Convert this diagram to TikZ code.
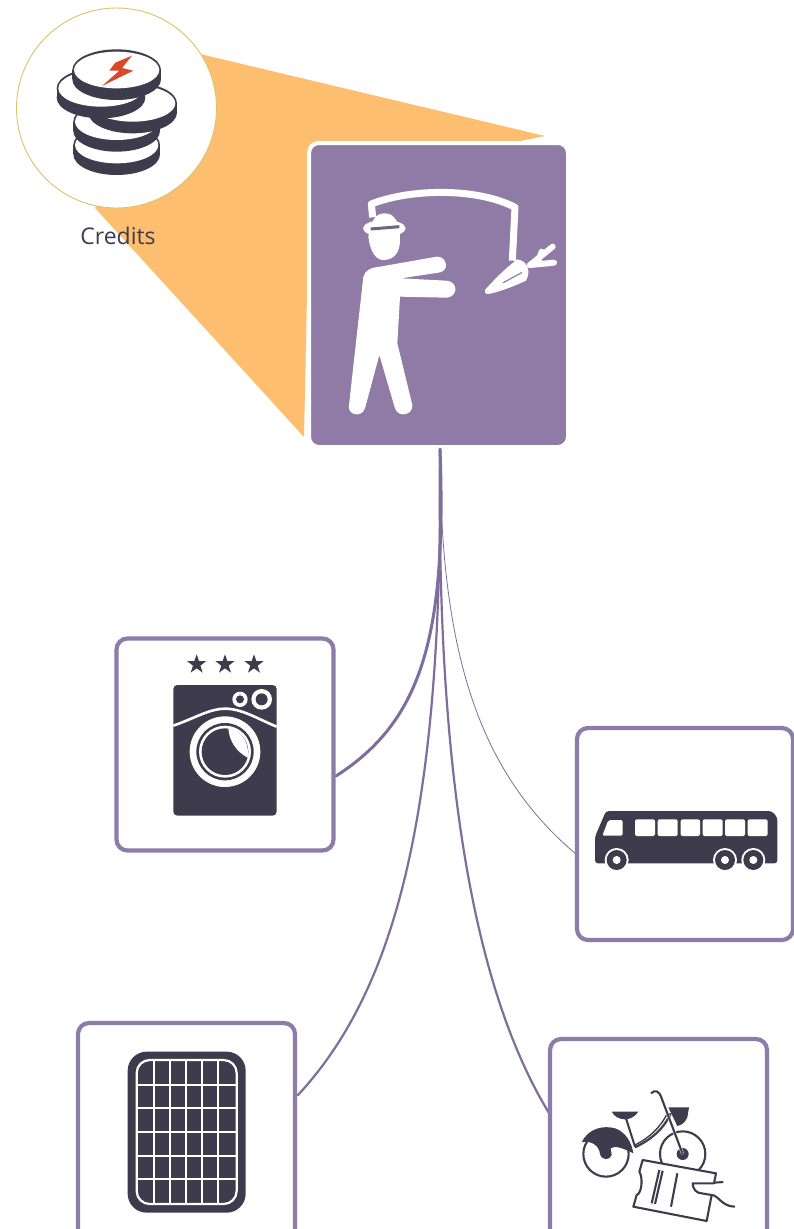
\documentclass[tikz,border=0pt]{standalone}
\usepackage{fontspec}
\setmainfont{Open Sans}
\definecolor{orangefan}{HTML}{FDBF6F}
\definecolor{cardpurple}{HTML}{8F7BA6}
\definecolor{linepurple}{HTML}{7F6D9C}
\definecolor{framepurple}{HTML}{8C7CA8}
\definecolor{icondark}{HTML}{3E3C4C}
\definecolor{bolt}{HTML}{D8492B}
\definecolor{ringline}{HTML}{D9C46A}
\tikzset{
  framebox/.style={draw=framepurple,line width=4.2pt,fill=white,rounded corners=11pt,inner sep=0pt},
  link/.style={draw=linepurple,line cap=round},
  zoomed/.style={x=0.33333pt,y=-0.33333pt},
}
\newcommand{\coinshape}[3]{% cx, cy, rx
  \fill[icondark] (#1,#2) ellipse[x radius=#3+5,y radius=62];
  \fill[icondark] (#1,#2+28) ellipse[x radius=#3+5,y radius=62];
  \fill[icondark] (#1-#3-5,#2) rectangle (#1+#3+5,#2+28);
  \fill[white] (#1,#2) ellipse[x radius=#3,y radius=55];
}
\begin{document}
\begin{tikzpicture}[x=1pt,y=-1pt]
\useasboundingbox (0,0) rectangle (794,1229);
\fill[white] (0,0) rectangle (794,1229);
% orange fan
\fill[orangefan] (200,54) -- (545,136) -- (510,143) -- (310,150) -- (304,437) -- (95,208) -- cycle;
% connector ends
\coordinate (washIn) at (336,776);
\coordinate (busIn) at (577,855);
\coordinate (solarIn) at (298,1095);
\coordinate (bikeIn) at (549,1113);
% main card
\node[draw=white,line width=4pt,fill=cardpurple,rounded corners=10pt,minimum width=259pt,minimum height=304pt,inner sep=0pt] (card) at (438.5,295) {};
\coordinate (trunkTop) at (440,449);
% connectors
\draw[link,line width=3pt] (trunkTop) .. controls (447,640) and (420,722) .. (washIn);
\draw[link,line width=0.8pt] (trunkTop) .. controls (440,660) and (482,775) .. (busIn);
\draw[link,line width=2.2pt] (trunkTop) .. controls (443,800) and (400,985) .. (solarIn);
\draw[link,line width=2.2pt] (trunkTop) .. controls (436,800) and (480,1000) .. (bikeIn);
% boxes
\node[framebox,minimum width=217pt,minimum height=212pt] (wash) at (225,744.5) {};
\node[framebox,minimum width=216pt,minimum height=212pt] (bus) at (685,834) {};
\node[framebox,minimum width=217pt,minimum height=218pt] (solar) at (186.5,1132) {};
\node[framebox,minimum width=217pt,minimum height=218pt] (bike) at (658.5,1148) {};
% credits circle
\node[circle,draw=ringline,line width=0.9pt,fill=white,minimum size=200pt,inner sep=0pt] (credits) at (116.5,108) {};
\node[font=\fontsize{23}{26}\selectfont,text=icondark,inner sep=0pt] (creditsLabel) at (118,236) {Credits};
% coins
\begin{scope}[shift={(0,0)},zoomed]
  \coinshape{350}{435}{125}
  \coinshape{350}{365}{125}
  \coinshape{398}{310}{128}
  \coinshape{303}{265}{128}
  \coinshape{350}{210}{128}
  \fill[bolt] (396,167) -- (346,188) -- (328,212) -- (358,212) -- (306,258) -- (400,212) -- (366,204) -- cycle;
\end{scope}
% man with carrot
\begin{scope}[shift={(300,130)},zoomed]
  \draw[white,line width=7pt,line join=round] (218,262) -- (214,222) .. controls (330,176) and (530,172) .. (645,232) -- (637,392);
  \fill[white] (205,320) .. controls (215,270) and (225,250) .. (255,250) .. controls (285,250) and (300,280) .. (300,330) .. controls (300,370) and (280,390) .. (250,390) .. controls (225,390) and (210,360) .. (205,320) -- cycle;
  \fill[white] (253,295) ellipse[x radius=64,y radius=25];
  \draw[cardpurple!60!icondark,line width=3pt] (212,297) -- (298,290);
  \fill[white] (555,480) .. controls (590,440) and (625,408) .. (652,388) .. controls (680,392) and (695,420) .. (678,452) .. controls (640,470) and (590,488) .. (565,492) .. controls (555,492) and (552,486) .. (555,480) -- cycle;
  \draw[cardpurple,line width=1.2pt,line cap=round] (610,458) -- (665,428);
  \draw[white,line width=6pt,line cap=round] (690,405) -- (758,350);
  \draw[white,line width=6pt,line cap=round] (690,405) -- (762,398);
  \draw[white,line width=6pt,line cap=round] (715,392) -- (725,365);
  \fill[white] (190,440) .. controls (195,420) and (215,412) .. (240,410) -- (410,380) .. controls (442,378) and (450,425) .. (415,428) -- (303,445) -- (440,452) .. controls (475,455) and (475,500) .. (440,503) -- (300,500) -- (292,640) -- (337,825) .. controls (340,855) and (295,865) .. (285,835) -- (238,675) -- (195,835) .. controls (185,865) and (140,855) .. (147,825) -- cycle;
\end{scope}
% washing machine
\begin{scope}[shift={(110,630)},zoomed]
  \foreach \sx in {260,345,432}{
    \fill[icondark] (\sx,73) -- (\sx+7,93) -- (\sx+29,93) -- (\sx+11,107) -- (\sx+18,128) -- (\sx,115) -- (\sx-18,128) -- (\sx-11,107) -- (\sx-29,93) -- (\sx-7,93) -- cycle;
  }
  \fill[icondark,rounded corners=4pt] (190,165) rectangle (500,557);
  \draw[white,line width=2.6pt] (190,287) .. controls (260,262) and (300,236) .. (345,236) .. controls (395,236) and (440,265) .. (500,290);
  \fill[white] (345,365) circle[radius=106];
  \fill[icondark] (345,365) circle[radius=86];
  \fill[white] (345,365) circle[radius=78];
  \fill[icondark] (345,365) circle[radius=70];
  \fill[white] (355,295) .. controls (358,335) and (380,365) .. (413,383) .. controls (420,340) and (395,300) .. (355,295) -- cycle;
  \fill[white] (390,208) circle[radius=23];
  \fill[icondark] (390,208) circle[radius=12];
  \fill[white] (455,208) circle[radius=31];
  \fill[icondark] (455,208) circle[radius=18];
\end{scope}
% bus
\begin{scope}[shift={(570,720)},zoomed]
  \fill[icondark,rounded corners=3pt] (108,273) -- (605,273) -- (622,292) -- (622,430) -- (75,430) -- (75,350) -- cycle;
  \fill[white,rounded corners=2pt] (115,300) -- (158,300) -- (158,347) -- (97,347) -- cycle;
  \foreach \wa/\wb in {195/255,263/323,332/390,398/458,465/525,533/593}{
    \fill[white,rounded corners=2pt] (\wa,298) rectangle (\wb,348);
  }
  \foreach \wx in {140,465,550}{
    \fill[white] (\wx,420) circle[radius=36];
    \fill[icondark] (\wx,420) circle[radius=30];
    \fill[white] (\wx,420) circle[radius=12];
  }
\end{scope}
% solar panel
\begin{scope}[shift={(70,1010)},zoomed]
  \fill[icondark,rounded corners=19pt] (173,125) rectangle (527,608);
  \begin{scope}
    \clip[rounded corners=13pt] (199,150) rectangle (501,583);
    \foreach \gx in {252,300,348,397,445}{
      \draw[white,line width=1.8pt] (\gx,148) -- (\gx,585);
    }
    \foreach \gy in {225,295,367,437,507}{
      \draw[white,line width=1.8pt] (197,\gy) -- (503,\gy);
    }
  \end{scope}
  \draw[white,line width=2.2pt,rounded corners=13pt] (200,150) rectangle (500,582);
\end{scope}
% bike and ticket
\begin{scope}[shift={(540,1030)},zoomed]
  \draw[icondark,line width=2.1pt] (198,372) circle[radius=68];
  \draw[icondark,line width=2.1pt] (428,372) circle[radius=68];
  \fill[icondark] (125,337) .. controls (145,295) and (190,285) .. (225,295) .. controls (255,305) and (275,335) .. (280,370) .. controls (250,355) and (225,345) .. (212,355) -- (215,375) .. controls (210,392) and (185,392) .. (180,372) .. controls (178,345) and (150,330) .. (125,337) -- cycle;
  \fill[icondark] (428,372) circle[radius=18];
  \fill[icondark] (215,245) -- (295,245) .. controls (285,260) and (270,268) .. (255,268) .. controls (240,268) and (222,260) .. (215,245) -- cycle;
  \draw[icondark,line width=2pt] (258,265) -- (285,350);
  \draw[icondark,line width=2.2pt] (285,352) .. controls (330,330) and (370,300) .. (392,250);
  \draw[icondark,line width=1.4pt] (285,345) .. controls (325,325) and (360,295) .. (382,250);
  \fill[icondark] (385,232) -- (447,232) -- (442,262) .. controls (435,278) and (425,285) .. (412,288) -- cycle;
  \draw[white,line width=3pt] (365,205) -- (428,372);
  \draw[icondark,line width=2.1pt] (333,190) .. controls (345,178) and (358,182) .. (365,205) -- (428,372);
  \draw[icondark,line width=2.1pt,fill=white,line join=round] (308,390) -- (528,430) -- (522,460) -- (458,460) .. controls (458,475) and (468,490) .. (485,490) -- (515,495) -- (500,573) -- (280,530) -- (290,495) .. controls (305,490) and (310,445) .. (298,425) -- cycle;
  \draw[icondark,line width=2.1pt] (358,420) -- (335,520) (368,422) -- (345,522) (412,430) -- (393,530);
  \draw[icondark,line width=2.1pt] (522,458) -- (550,456);
  \draw[icondark,line width=2.1pt] (515,495) .. controls (535,495) and (545,530) .. (585,530);
\end{scope}
\end{tikzpicture}
\end{document}
